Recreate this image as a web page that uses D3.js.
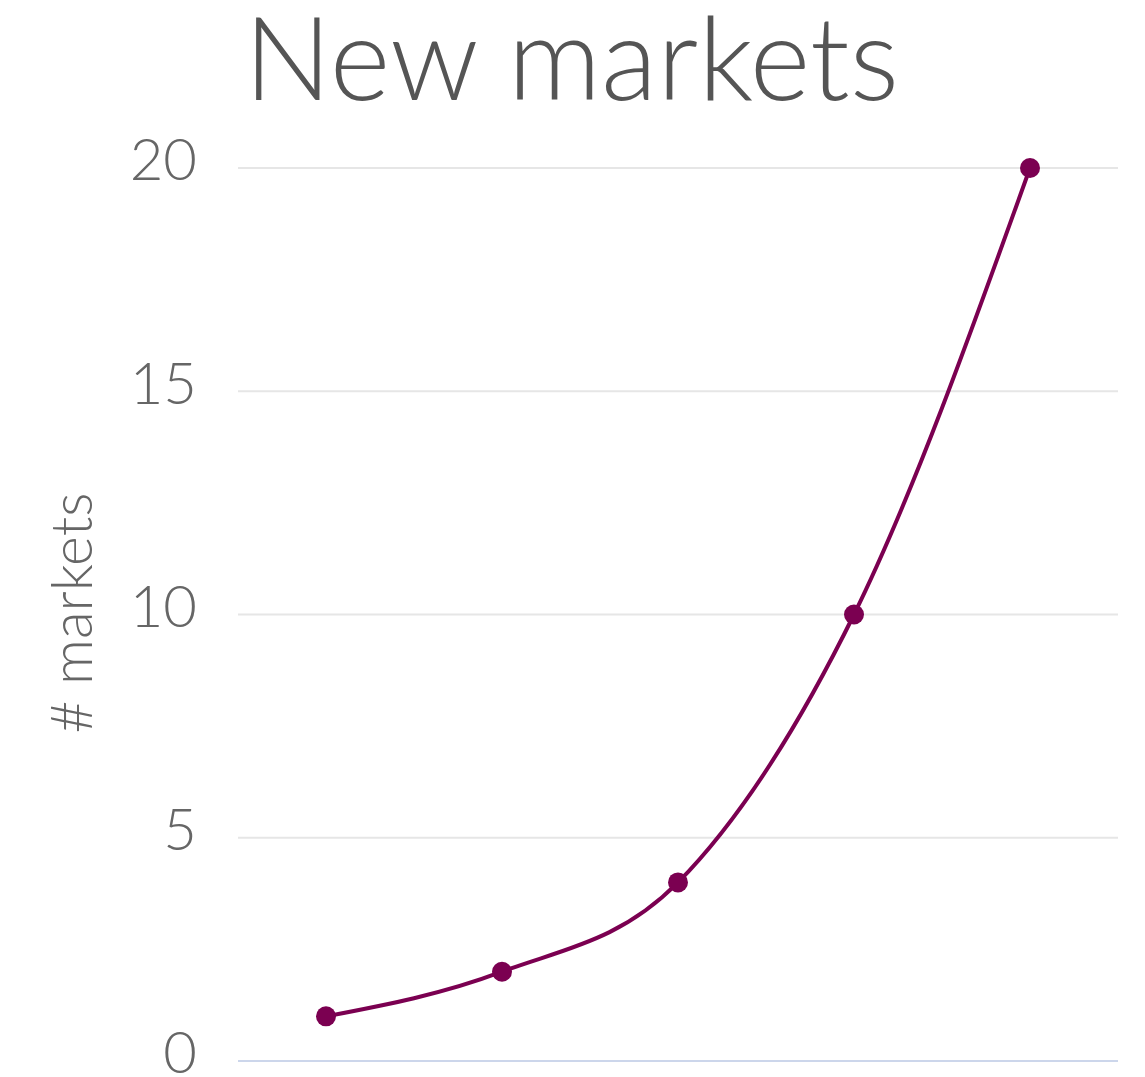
<!DOCTYPE html>
<html>
<head>
<meta charset="utf-8">
<script src="https://cdn.jsdelivr.net/npm/d3@7"></script>
<style>
  body { margin: 0; background: #fff; }
  text { font-family: Lato, "Open Sans", sans-serif; }
</style>
</head>
<body>
<svg id="chart"></svg>
<script>
const chartWidth = 1145;
const chartHeight = 1077;

// data
const categories = ["1", "2", "3", "4", "5"];
const marketValues = [1, 2, 4, 10, 20];
const yTicks = [0, 5, 10, 15, 20];

const margin = { top: 168, right: 27, bottom: 16, left: 238 };
const plotW = chartWidth - margin.left - margin.right;
const plotH = chartHeight - margin.top - margin.bottom;

const svg = d3.select("#chart")
  .attr("width", chartWidth)
  .attr("height", chartHeight);

// Chart title
svg.append("text")
  .attr("x", 244)
  .attr("y", 100)
  .style("font-size", "116px")
  .style("font-weight", "300")
  .style("fill", "#555")
  .text("New markets");

const g = svg.append("g")
  .attr("transform", `translate(${margin.left}, ${margin.top})`);

const x = d3.scalePoint()
  .domain(categories)
  .range([0, plotW])
  .padding(0.5);

const y = d3.scaleLinear()
  .domain([0, 20])
  .range([plotH, 0]);

// gridlines
g.selectAll("line.grid")
  .data(yTicks)
  .enter()
  .append("line")
  .attr("class", "grid")
  .attr("x1", 0)
  .attr("x2", plotW)
  .attr("y1", d => y(d))
  .attr("y2", d => y(d))
  .attr("stroke", d => d === 0 ? "#ccd6eb" : "#e6e6e6")
  .attr("stroke-width", 2);

// y axis labels (sit a little above their gridline)
const yAxis = d3.axisLeft(y).tickValues(yTicks).tickSize(0).tickPadding(41);
g.append("g")
  .call(yAxis)
  .call(a => a.select(".domain").remove())
  .selectAll("text")
  .attr("y", -9)
  .attr("dy", "0.36em")
  .style("font-family", "Lato, 'Open Sans', sans-serif")
  .style("font-size", "58px")
  .style("font-weight", "300")
  .style("fill", "#666");

// y axis title
svg.append("text")
  .attr("transform", `translate(92, 613) rotate(-90)`)
  .attr("text-anchor", "middle")
  .style("font-size", "57px")
  .style("font-weight", "300")
  .style("fill", "#666")
  .text("# markets");

const points = categories.map((c, i) => ({ cat: c, value: marketValues[i] }));

const line = d3.line()
  .x(d => x(d.cat))
  .y(d => y(d.value))
  .curve(d3.curveMonotoneX);

g.append("path")
  .datum(points)
  .attr("d", line)
  .attr("fill", "none")
  .attr("stroke", "#7b0051")
  .attr("stroke-width", 4);

g.selectAll("circle.pt")
  .data(points)
  .enter()
  .append("circle")
  .attr("class", "pt")
  .attr("cx", d => x(d.cat))
  .attr("cy", d => y(d.value))
  .attr("r", 10)
  .attr("fill", "#7b0051");
</script>
</body>
</html>
